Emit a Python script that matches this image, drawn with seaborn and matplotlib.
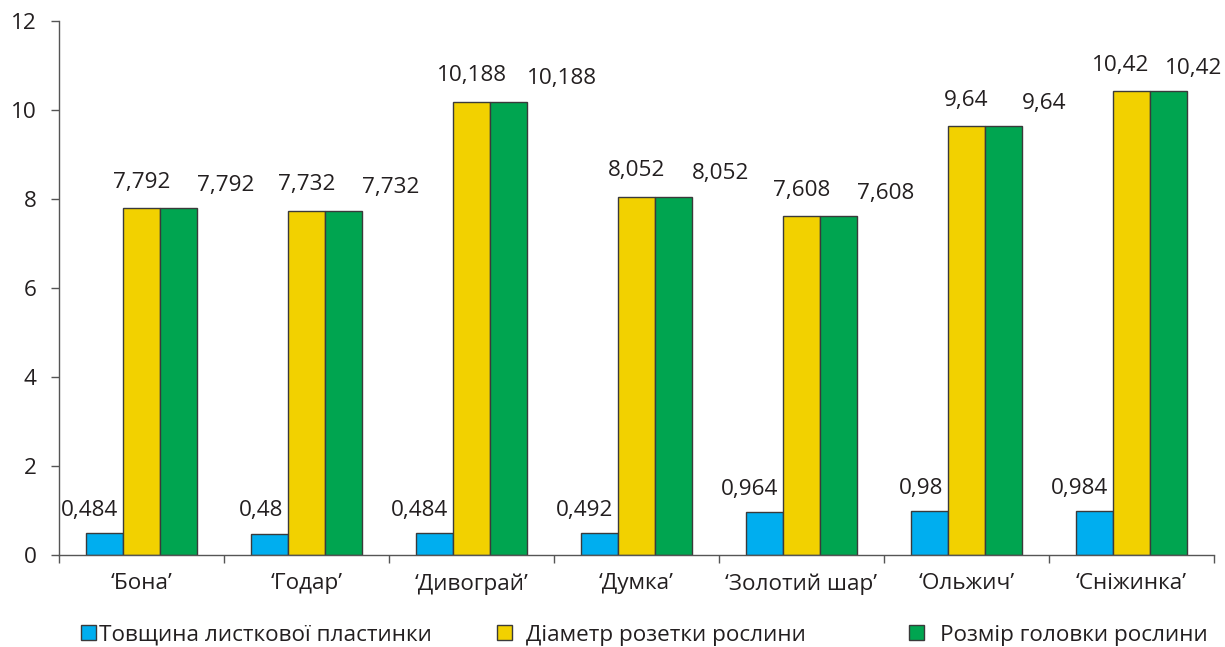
import matplotlib
matplotlib.use("Agg")
import matplotlib.pyplot as plt
import matplotlib.patches as mpatches
from matplotlib.ticker import FixedLocator, NullFormatter
import numpy as np
import pandas as pd
import seaborn as sns

# Cultivars and measured traits
varieties = ["‘Бона’", "‘Годар’", "‘Дивограй’", "‘Думка’", "‘Золотий шар’", "‘Ольжич’", "‘Сніжинка’"]
leaf_thickness = [0.484, 0.48, 0.484, 0.492, 0.964, 0.98, 0.984]
rosette_diameter = [7.792, 7.732, 10.188, 8.052, 7.608, 9.64, 10.42]
head_size = [7.792, 7.732, 10.188, 8.052, 7.608, 9.64, 10.42]
series_names = ["Товщина листкової пластинки", "Діаметр розетки рослини", "Розмір головки рослини"]
y_ticks = [0, 2, 4, 6, 8, 10, 12]

colors = ["#00AEEF", "#F2D100", "#00A550"]
edge = "#3a3a3a"
text_color = "#231F20"

df = pd.DataFrame({
    "variety": varieties * 3,
    "value": leaf_thickness + rosette_diameter + head_size,
    "trait": [series_names[0]] * 7 + [series_names[1]] * 7 + [series_names[2]] * 7,
})

sns.set_theme(style="white")
plt.rcParams["font.family"] = ["Open Sans", "DejaVu Sans"]
plt.rcParams["text.color"] = text_color
FS = 16.2
FS_VAL = 16.2

fig = plt.figure(figsize=(12.25, 6.47), dpi=100)
ax = fig.add_axes([59 / 1225, 1 - 555 / 647, (1214 - 59) / 1225, (555 - 21) / 647])

sns.barplot(data=df, x="variety", y="value", hue="trait", hue_order=series_names,
            palette=colors, width=0.675, edgecolor=edge, linewidth=1.0,
            saturation=1, legend=False, ax=ax, errorbar=None)

ax.set_ylim(0, 12)
ax.set_xlim(-0.5, len(varieties) - 0.5)
ax.set_yticks(y_ticks)
ax.set_yticklabels([str(t) for t in y_ticks])
ax.set_xlabel("")
ax.set_ylabel("")

for s in ["top", "right"]:
    ax.spines[s].set_visible(False)
for s in ["left", "bottom"]:
    ax.spines[s].set_color("#555555")
    ax.spines[s].set_linewidth(1.0)

ax.tick_params(axis="y", which="major", left=True, length=6, width=1.0, color="#555555",
               direction="out", pad=10, labelsize=FS, labelcolor=text_color)
ax.tick_params(axis="x", which="major", length=0, pad=13, labelsize=FS, labelcolor=text_color)
ax.xaxis.set_minor_locator(FixedLocator(np.arange(-0.5, len(varieties), 1.0)))
ax.xaxis.set_minor_formatter(NullFormatter())
ax.tick_params(axis="x", which="minor", bottom=True, length=6, width=1.0, color="#555555",
               direction="out")

# Value labels
series_values = [leaf_thickness, rosette_diameter, head_size]
yellow_labels = []
green_labels = []
for ci, (cont, vals) in enumerate(zip(ax.containers, series_values)):
    for patch, v in zip(cont.patches, vals):
        label = f"{v:g}".replace(".", ",")
        x0 = patch.get_x()
        w = patch.get_width()
        top = patch.get_height()
        if ci == 0:
            ann = ax.annotate(label, (x0 + w, top), xytext=(-5, 23), textcoords="offset pixels",
                              ha="right", va="center", fontsize=FS_VAL, color=text_color)
        elif ci == 1:
            ann = ax.annotate(label, (x0 + w / 2, top), xytext=(0, 26), textcoords="offset pixels",
                              ha="center", va="center", fontsize=FS_VAL, color=text_color)
            yellow_labels.append(ann)
        else:
            ann = ax.annotate(label, (x0 + w, top), xytext=(0, 23), textcoords="offset pixels",
                              ha="left", va="center", fontsize=FS_VAL, color=text_color,
                              annotation_clip=False)
            green_labels.append(ann)

# Keep the right-most labels inside the figure, nudging the neighbour along
fig.canvas.draw()
renderer = fig.canvas.get_renderer()
limit = 1222
for ya, ga in zip(yellow_labels, green_labels):
    bb = ga.get_window_extent(renderer)
    if bb.x1 > limit:
        shift = bb.x1 - limit
        ga.xyann = (ga.xyann[0] - shift, ga.xyann[1])
        ya.xyann = (ya.xyann[0] - shift / 2, ya.xyann[1])

# Legend: three entries spread along the bottom
entries = [(0, 81, 3), (1, 497, 14), (2, 909, 16)]
for idx, xpx, gap in entries:
    h = mpatches.Patch(facecolor=colors[idx], edgecolor=edge, linewidth=1.0)
    leg = fig.legend([h], [series_names[idx]], loc="center left",
                     bbox_to_anchor=(xpx / 1225, 1 - 635 / 647), frameon=False,
                     fontsize=FS, handlelength=0.65, handleheight=0.65,
                     handletextpad=gap / 22.5, borderpad=0, borderaxespad=0)
    for t in leg.get_texts():
        t.set_color(text_color)

fig.savefig("out.png", dpi=100)
